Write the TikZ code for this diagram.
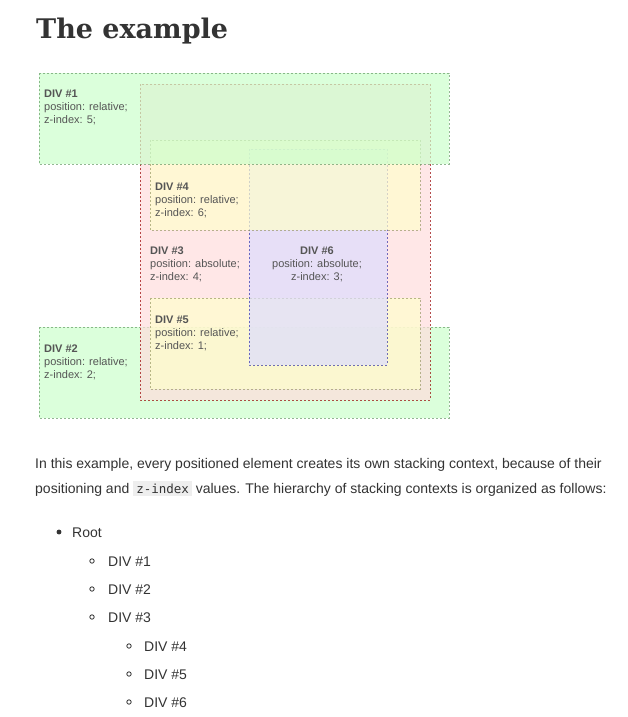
\documentclass[tikz,border=0pt]{standalone}
\usepackage{fontspec}
\setmainfont{Liberation Sans}
\setmonofont{DejaVu Sans Mono}
\newfontfamily\slabfont{DejaVu Serif}
\usetikzlibrary{positioning}

\definecolor{divgreen}{HTML}{CCFFCC}
\definecolor{divgreenline}{HTML}{669966}
\definecolor{divred}{HTML}{FFDDDD}
\definecolor{divredline}{HTML}{990000}
\definecolor{divyellow}{HTML}{FFFFCC}
\definecolor{divyellowline}{HTML}{999966}
\definecolor{divblue}{HTML}{DDDDFF}
\definecolor{divblueline}{HTML}{3333AA}
\definecolor{bodytext}{HTML}{333333}
\definecolor{boxtext}{HTML}{555555}
\definecolor{codebg}{HTML}{EEEEEE}

\tikzset{
  divbox/.style={fill opacity=0.7, draw opacity=0.7, line width=1pt, dash pattern=on 2pt off 2pt},
  divlabel/.style={anchor=base west, align=left, inner sep=0pt, text=boxtext,
    font=\fontsize{11}{13}\selectfont},
  bodyline/.style={anchor=base west, inner sep=0pt, text=bodytext, font=\fontsize{14}{25}\selectfont},
  listitem/.style={anchor=base west, inner sep=0pt, text=bodytext, font=\fontsize{14}{25}\selectfont},
}

\begin{document}
\begin{tikzpicture}[x=1pt,y=-1pt]
\useasboundingbox[fill=white] (0,0) rectangle (627,717);

\node[anchor=base west, inner sep=0pt, text=bodytext, font=\slabfont\bfseries\fontsize{27}{33}\selectfont] (title) at (36,39) {The example};

% root context: div2 (z 2), div3 (z 4), div1 (z 5)
% (labels are placed at the baseline of their last line)
\filldraw[divbox, fill=divgreen, draw=divgreenline] (39,327) rectangle (449,418);
\node[divlabel] (div2txt) at (44,378) {\textbf{DIV \#2}\\position: relative;\\z-index: 2;};

\filldraw[divbox, fill=divred, draw=divredline] (140,84) rectangle (430,400);
\node[divlabel] (div3txt) at (150,280) {\textbf{DIV \#3}\\position: absolute;\\z-index: 4;};

% inside div3: div5 (z 1), div6 (z 3), div4 (z 6)
\filldraw[divbox, fill=divyellow, draw=divyellowline] (150,298) rectangle (420,389);
\node[divlabel] (div5txt) at (155,349) {\textbf{DIV \#5}\\position: relative;\\z-index: 1;};

\filldraw[divbox, fill=divblue, draw=divblueline] (249,149) rectangle (387,365);
\node[divlabel, anchor=base, align=center] (div6txt) at (317,280) {\textbf{DIV \#6}\\position: absolute;\\z-index: 3;};

\filldraw[divbox, fill=divyellow, draw=divyellowline] (150,140) rectangle (420,230);
\node[divlabel] (div4txt) at (155,216) {\textbf{DIV \#4}\\position: relative;\\z-index: 6;};

\filldraw[divbox, fill=divgreen, draw=divgreenline] (39,73) rectangle (449,164);
\node[divlabel] (div1txt) at (44,123) {\textbf{DIV \#1}\\position: relative;\\z-index: 5;};

% text below
\node[bodyline] (para1) at (35,468) {In this example, every positioned element creates its own stacking context, because of their};
\node[bodyline] (para2) at (35,493) {positioning and {\setlength{\fboxsep}{3pt}\colorbox{codebg}{\ttfamily\fontsize{12.5}{14}\selectfont z-index}} values. The hierarchy of stacking contexts is organized as follows:};

\filldraw[bodytext] (59,532) circle (2.2pt);
\node[listitem] (root) at (72,537) {Root};
\foreach \n/\y in {1/566,2/594,3/622} {
  \draw[bodytext, line width=0.8pt] (92,\y-5) circle (2.2pt);
  \node[listitem] (item\n) at (108,\y) {DIV \#\n};
}
\foreach \n/\y in {4/651,5/679,6/707} {
  \draw[bodytext, line width=0.8pt] (129,\y-5) circle (2.2pt);
  \node[listitem] (item\n) at (144,\y) {DIV \#\n};
}
\end{tikzpicture}
\end{document}
